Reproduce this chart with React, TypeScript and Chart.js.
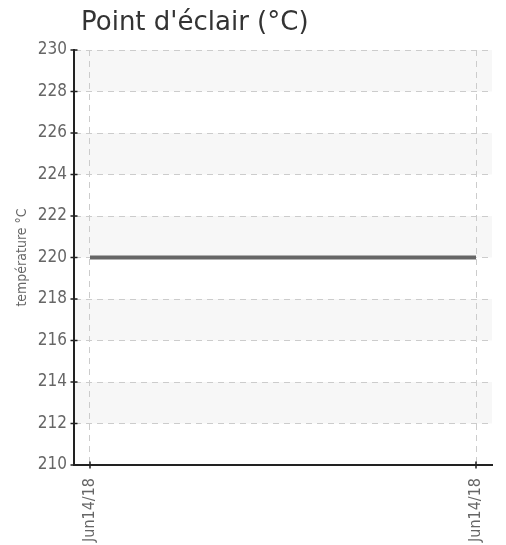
import React, { useEffect, useRef } from "react";
import { Chart, registerables } from "chart.js";

Chart.register(...registerables);

const titleText = "Point d'éclair (°C)";
const yAxisTitle = "température °C";
const categories = ["Jun14/18", "Jun14/18"];
const values = [220, 220];
const yMin = 210;
const yMax = 230;
const yStep = 2;

const NARROW = "'Liberation Sans Narrow', 'DejaVu Sans Condensed', 'Arial Narrow', sans-serif";

export default function App() {
  const ref = useRef<HTMLCanvasElement>(null);

  useEffect(() => {
    document.body.style.margin = "0";
    const canvas = ref.current;
    if (!canvas) return;

    const stripes = {
      id: "stripes",
      beforeDraw(chart: any) {
        const { ctx, chartArea, scales } = chart;
        const y = scales.y;
        ctx.save();
        ctx.fillStyle = "#f7f7f7";
        for (let v = yMin; v < yMax; v += yStep) {
          if (v % (yStep * 2) === 0 && v !== yMin) {
            const top = y.getPixelForValue(v + yStep);
            const bot = y.getPixelForValue(v);
            ctx.fillRect(chartArea.left, top, chartArea.right - chartArea.left, bot - top);
          }
        }
        ctx.restore();
      },
    };

    const crossTicks = {
      id: "crossTicks",
      afterDraw(chart: any) {
        const { ctx, chartArea, scales } = chart;
        ctx.save();
        ctx.strokeStyle = "#222222";
        ctx.lineWidth = 1.5;
        ctx.beginPath();
        scales.y.ticks.forEach((t: any) => {
          const py = scales.y.getPixelForValue(t.value);
          ctx.moveTo(chartArea.left - 3.5, py);
          ctx.lineTo(chartArea.left + 3.5, py);
        });
        scales.x.ticks.forEach((t: any) => {
          const px = scales.x.getPixelForValue(t.value);
          ctx.moveTo(px, chartArea.bottom - 3.5);
          ctx.lineTo(px, chartArea.bottom + 3.5);
        });
        ctx.stroke();
        ctx.restore();
      },
    };

    const titlePlugin = {
      id: "leftTitle",
      afterDraw(chart: any) {
        const { ctx, chartArea } = chart;
        ctx.save();
        ctx.font = "26px 'DejaVu Sans', sans-serif";
        ctx.fillStyle = "#333333";
        ctx.textAlign = "left";
        ctx.textBaseline = "alphabetic";
        ctx.fillText(titleText, chartArea.left + 7, 30);
        ctx.restore();
      },
    };

    const pad = 0.04145;

    const chart = new Chart(canvas, {
      type: "line",
      data: {
        datasets: [
          {
            data: values.map((v, i) => ({ x: i, y: v })),
            borderColor: "#666666",
            borderWidth: 4,
            pointRadius: 0,
            fill: false,
          },
        ],
      },
      options: {
        animation: false,
        responsive: false,
        devicePixelRatio: 1,
        layout: { padding: { top: 50, right: 14, left: 0, bottom: 0 } },
        plugins: {
          legend: { display: false },
          title: { display: false },
          tooltip: { enabled: false },
        },
        scales: {
          x: {
            type: "linear",
            min: -pad,
            max: categories.length - 1 + pad,
            afterBuildTicks(scale: any) {
              scale.ticks = categories.map((_, i) => ({ value: i }));
            },
            afterFit(scale: any) {
              scale.height = 80;
            },
            ticks: {
              callback: (v: any) => categories[Math.round(Number(v))] ?? "",
              maxRotation: 90,
              minRotation: 90,
              padding: 9,
              color: "#666666",
              font: { family: NARROW, size: 16 },
              autoSkip: false,
            },
            grid: {
              color: "#cccccc",
              lineWidth: 1,
              tickLength: 4,
              tickColor: "rgba(0,0,0,0)",
            },
            border: { display: true, color: "#222222", width: 2, dash: [6, 5] },
          },
          y: {
            min: yMin,
            max: yMax,
            afterFit(scale: any) {
              scale.width = 74;
            },
            ticks: {
              stepSize: yStep,
              padding: 3,
              color: "#666666",
              font: { family: NARROW, size: 17 },
            },
            grid: {
              color: "#cccccc",
              lineWidth: 1,
              tickLength: 4,
              tickColor: "rgba(0,0,0,0)",
            },
            border: { display: true, color: "#222222", width: 2, dash: [6, 5] },
            title: {
              display: true,
              text: yAxisTitle,
              color: "#666666",
              font: { family: NARROW, size: 14 },
              padding: { top: 14, bottom: 4 },
            },
          },
        },
      },
      plugins: [stripes, crossTicks, titlePlugin],
    });

    return () => chart.destroy();
  }, []);

  return (
    <div style={{ width: 506, height: 545 }}>
      <canvas ref={ref} width={506} height={545} />
    </div>
  );
}
